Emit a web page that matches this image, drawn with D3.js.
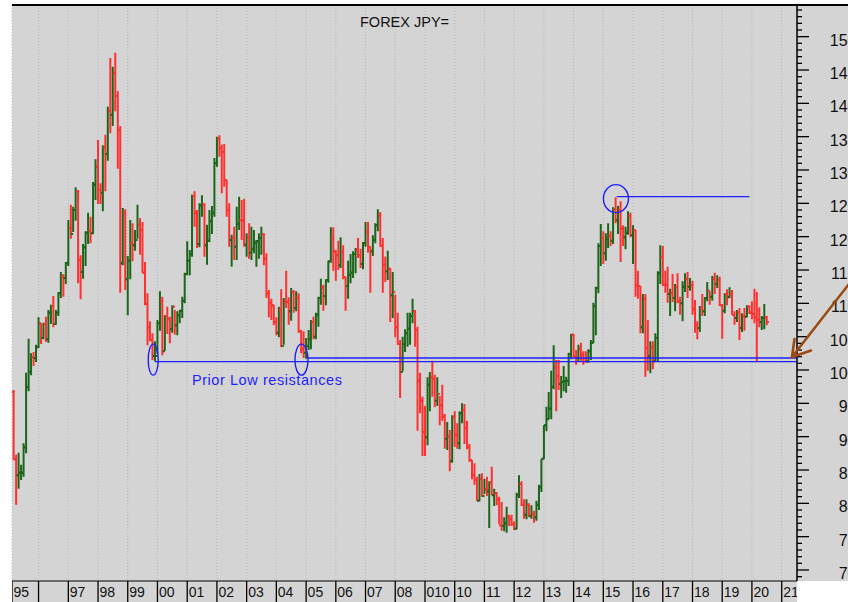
<!DOCTYPE html>
<html>
<head>
<meta charset="utf-8">
<script src="https://cdn.jsdelivr.net/npm/d3@7"></script>
<style>
html, body { margin: 0; padding: 0; background: #fff; }
svg { display: block; font-family: "Liberation Sans", Arial, sans-serif; }
</style>
</head>
<body>
<div id="chart"></div>
<script>
// monthly USD/JPY bars, March 1995 .. July 2020 (open = previous close)
const title = "FOREX JPY=";
const firstMonth = "1995-03";
const firstOpen = 96.7;

const highs = [
  97.0, 87.3, 87.6, 85.8, 89.0, 99.6, 104.7, 102.5, 102.7, 103.8,
  107.9, 107.0, 107.1, 108.0, 109.0, 109.8, 111.1, 109.0, 111.7, 114.7, 114.4, 116.2,
  122.5, 124.8, 124.5, 127.4, 127.0, 117.2, 118.9, 120.8, 123.6, 123.0, 128.2, 131.6,
  134.5, 128.0, 133.7, 135.3, 139.5, 146.8, 145.5, 147.6, 141.8, 136.6, 124.3, 124.1,
  117.1, 122.5, 122.0, 121.0, 124.8, 122.8, 122.2, 116.2, 111.5, 107.3, 105.5, 104.3,
  107.5, 111.8, 111.0, 108.2, 109.5, 108.0, 109.7, 109.0, 108.8, 109.0, 111.0, 114.6,
  119.3, 118.0, 126.3, 126.8, 124.0, 125.0, 126.2, 125.0, 121.8, 124.0, 124.6, 131.8,
  135.0, 135.2, 133.8, 133.9, 128.5, 125.0, 120.3, 121.5, 124.5, 126.0, 125.5, 125.7,
  120.5, 122.0, 121.5, 121.0, 119.5, 120.5, 121.5, 120.5, 117.5, 112.0, 110.7, 109.8,
  107.9, 109.5, 112.1, 110.8, 114.9, 110.9, 112.3, 112.0, 111.8, 111.5, 106.0, 105.8,
  104.8, 106.0, 107.5, 108.0, 108.6, 111.0, 113.7, 112.8, 113.6, 116.4, 121.4, 121.4,
  118.0, 119.4, 119.9, 118.7, 114.0, 116.4, 117.4, 117.8, 118.3, 119.8, 118.2, 119.2,
  122.2, 122.2, 118.5, 120.2, 122.0, 124.1, 123.7, 119.8, 117.0, 117.9, 115.3, 114.7,
  111.3, 108.6, 104.5, 105.0, 106.1, 108.6, 108.6, 110.7, 109.0, 106.5, 99.6, 96.0,
  94.6, 98.9, 99.7, 101.4, 99.3, 98.9, 96.1, 97.8, 93.4, 92.2, 91.0, 93.2,
  93.8, 92.0, 93.8, 95.0, 94.9, 92.4, 88.9, 86.5, 86.0, 84.0, 84.4, 84.5,
  83.7, 84.0, 83.3, 85.5, 82.2, 81.7, 81.0, 80.2, 77.9, 79.5, 78.3, 78.3,
  77.3, 81.6, 84.2, 83.3, 80.6, 80.6, 80.0, 79.7, 78.9, 80.4, 82.8, 86.6,
  91.7, 94.5, 96.7, 99.9, 103.7, 101.5, 101.5, 99.1, 100.6, 99.0, 102.6, 105.4,
  105.4, 103.0, 103.8, 104.1, 102.8, 102.8, 103.1, 104.5, 110.1, 112.5, 119.0, 121.9,
  120.8, 120.5, 122.0, 120.8, 124.4, 125.9, 124.6, 125.3, 121.7, 121.5, 123.8, 123.6,
  121.7, 121.0, 114.9, 112.6, 111.4, 111.4, 107.5, 104.3, 104.3, 105.5, 114.8, 118.7,
  118.6, 114.9, 115.5, 112.2, 114.4, 112.9, 114.5, 111.0, 113.3, 114.5, 114.7, 113.8,
  113.4, 110.5, 107.3, 109.6, 111.4, 110.9, 113.2, 111.8, 114.1, 114.6, 114.2, 114.0,
  109.9, 111.5, 112.1, 112.4, 112.0, 108.8, 109.0, 109.3, 108.5, 109.3, 109.7, 109.7,
  110.3, 112.2, 111.7, 109.4, 108.1, 109.9, 108.1
];

const lows = [
  86.5, 79.8, 82.2, 83.5, 84.0, 87.5, 96.8, 99.2, 100.6, 101.2,
  103.3, 103.9, 104.6, 104.2, 104.1, 106.9, 106.4, 106.8, 108.1, 110.8, 111.0, 112.9,
  115.6, 119.7, 120.7, 122.4, 113.0, 110.6, 113.7, 115.6, 118.9, 119.0, 120.4, 125.5,
  124.9, 124.9, 123.8, 126.8, 131.4, 135.5, 136.6, 138.8, 130.2, 111.6, 115.7, 112.0,
  108.2, 113.6, 116.3, 117.9, 119.7, 117.3, 114.6, 109.7, 103.7, 104.3, 101.5, 101.3,
  102.4, 105.9, 102.2, 102.9, 105.4, 104.0, 105.6, 105.3, 105.2, 107.0, 107.8, 110.0,
  114.2, 114.2, 117.0, 121.5, 118.3, 118.4, 123.0, 117.0, 115.8, 119.2, 120.4, 123.0,
  130.5, 132.0, 126.5, 127.5, 123.0, 118.5, 115.5, 116.5, 116.5, 121.0, 119.5, 118.5,
  117.0, 116.7, 116.5, 117.5, 115.5, 116.7, 117.3, 115.7, 110.8, 107.9, 107.5, 106.7,
  105.2, 104.9, 103.4, 103.8, 109.3, 106.8, 107.4, 108.6, 108.8, 105.6, 102.5, 101.8,
  101.7, 103.0, 103.1, 104.6, 104.6, 106.5, 109.8, 108.9, 109.7, 113.1, 116.1, 114.9,
  113.4, 115.0, 115.3, 113.6, 108.9, 110.7, 113.0, 113.8, 114.5, 116.8, 115.3, 115.1,
  118.5, 117.6, 111.6, 117.1, 119.0, 120.8, 118.5, 111.6, 113.2, 113.5, 107.2, 107.8,
  104.9, 103.8, 95.8, 99.8, 102.7, 103.5, 103.8, 107.0, 103.5, 90.9, 93.5, 87.1,
  87.1, 88.7, 93.8, 96.0, 94.4, 94.6, 91.7, 92.4, 88.2, 88.0, 84.8, 86.1,
  88.5, 88.2, 88.1, 92.0, 88.9, 88.1, 86.2, 83.6, 82.8, 80.4, 80.3, 81.0,
  81.4, 81.1, 76.3, 81.2, 79.6, 79.7, 76.9, 75.9, 75.8, 75.6, 76.6, 76.6,
  76.0, 76.1, 80.8, 79.6, 77.7, 77.6, 77.9, 77.7, 77.1, 77.4, 79.0, 81.7,
  86.6, 90.8, 92.6, 92.6, 97.1, 93.8, 97.0, 95.8, 96.8, 96.6, 97.6, 101.6,
  101.8, 100.8, 101.2, 101.4, 100.8, 101.1, 101.1, 101.5, 104.0, 105.2, 111.5, 115.6,
  115.9, 116.4, 118.3, 118.6, 118.9, 122.0, 120.4, 116.2, 118.6, 118.1, 120.3, 119.9,
  115.9, 111.0, 110.7, 105.5, 105.5, 99.0, 99.9, 99.5, 100.1, 101.2, 101.2, 112.9,
  112.6, 111.6, 110.1, 108.1, 110.2, 108.8, 110.0, 108.3, 107.3, 111.7, 110.8, 111.9,
  108.3, 105.6, 104.6, 105.7, 108.1, 108.1, 110.3, 109.8, 110.4, 111.4, 112.3, 109.6,
  104.7, 108.5, 109.7, 110.8, 108.3, 106.8, 107.2, 104.5, 105.7, 105.9, 107.9, 108.4,
  107.6, 107.0, 101.2, 106.4, 106.0, 106.1, 106.7
];

const closes = [
  86.6, 84.2, 84.6, 84.6, 88.4, 97.4, 99.7, 101.9, 101.8, 103.4,
  107.0, 104.8, 106.9, 104.6, 108.6, 109.6, 106.9, 108.6, 111.5, 114.0, 113.8, 116.0,
  121.3, 120.4, 124.0, 126.8, 116.5, 114.7, 118.4, 120.6, 120.9, 120.5, 127.8, 130.5,
  127.0, 126.6, 133.4, 132.4, 138.9, 138.3, 144.5, 141.1, 136.0, 116.0, 123.5, 113.6,
  116.4, 119.0, 118.7, 119.5, 121.8, 121.0, 114.6, 109.9, 106.4, 104.5, 102.1, 102.1,
  107.0, 110.3, 102.8, 108.1, 107.7, 106.1, 109.5, 106.7, 108.2, 108.9, 110.4, 114.4,
  116.4, 117.4, 126.1, 123.6, 118.9, 124.7, 124.8, 118.7, 119.4, 122.3, 123.6, 131.0,
  134.7, 133.3, 132.7, 128.5, 124.0, 119.5, 119.8, 118.5, 121.9, 122.5, 122.4, 118.8,
  119.9, 117.6, 118.1, 119.1, 119.3, 119.8, 120.4, 116.7, 111.5, 110.0, 109.7, 107.2,
  105.6, 109.0, 103.6, 110.3, 110.2, 108.8, 111.7, 109.3, 110.8, 105.8, 103.1, 102.6,
  103.6, 104.6, 107.2, 105.0, 108.3, 110.8, 112.4, 111.1, 113.5, 116.3, 119.8, 117.8,
  117.2, 115.7, 117.7, 113.9, 112.6, 114.3, 114.6, 117.4, 118.1, 117.2, 115.9, 119.0,
  120.7, 118.5, 117.8, 119.5, 121.7, 123.2, 118.6, 115.8, 114.8, 115.2, 111.2, 111.7,
  106.4, 103.9, 99.7, 103.9, 105.5, 106.2, 108.1, 108.8, 106.0, 98.4, 95.4, 90.7,
  89.9, 97.8, 98.9, 98.6, 95.4, 96.4, 94.7, 93.0, 89.7, 90.0, 86.3, 93.0,
  90.3, 89.0, 93.5, 94.0, 91.3, 88.4, 86.5, 84.2, 83.5, 80.4, 83.7, 81.1,
  82.1, 81.8, 83.1, 81.2, 81.5, 80.6, 76.7, 76.6, 77.0, 78.0, 77.6, 76.9,
  76.2, 81.2, 82.9, 79.8, 78.3, 79.8, 78.1, 78.4, 77.9, 79.8, 82.4, 86.7,
  91.7, 92.6, 94.2, 97.5, 100.4, 99.1, 97.9, 98.2, 98.3, 98.4, 102.4, 105.3,
  102.0, 101.8, 103.2, 102.3, 101.8, 101.3, 102.8, 104.1, 109.6, 112.3, 118.6, 119.8,
  117.5, 119.6, 120.1, 119.4, 124.1, 122.5, 124.0, 121.2, 119.9, 120.6, 123.1, 120.2,
  121.0, 112.7, 112.6, 106.4, 110.7, 103.3, 102.1, 103.4, 101.3, 104.8, 114.5, 117.0,
  112.8, 112.7, 111.4, 111.5, 110.8, 112.4, 110.3, 110.0, 112.5, 113.7, 112.5, 112.7,
  109.2, 106.7, 106.3, 109.3, 108.8, 110.8, 111.9, 111.0, 113.7, 112.9, 113.5, 109.7,
  108.9, 111.4, 110.9, 111.4, 108.3, 107.8, 108.7, 106.3, 108.1, 108.0, 109.5, 108.6,
  108.4, 107.9, 107.5, 107.2, 107.8, 107.9, 107.2
];

// bottom axis: one cell per year starting 1995
const firstYear = 1995;
const yearLabels = ["95", "", "97", "98", "99", "00", "01", "02", "03", "04", "05", "06", "07",
  "08", "010", "10", "11", "12", "13", "14", "15", "16", "17", "18", "19", "20", "21"];

const yMin = 69, yMax = 154, yMajorStep = 5;

// annotations
const priorLows = [
  { circle: "1999-11-10", from: "1999-12-01", value: 101.25 },
  { circle: "2004-11-05", from: "2005-01-20", value: 101.8 }
];
const peakLevel = { circle: "2015-06-05", from: "2015-06-15", to: "2019-12-01", value: 126.0 };
const noteText = "Prior Low resistances";

const W = 848, H = 602;
const plot = { left: 12, right: 797, top: 5, bottom: 581 };

const parseMonth = d3.utcParse("%Y-%m");
const parseDay = d3.utcParse("%Y-%m-%d");
const start = parseMonth(firstMonth);
const bars = closes.map((c, i) => ({
  date: d3.utcMonth.offset(start, i),
  open: i === 0 ? firstOpen : closes[i - 1],
  high: highs[i],
  low: lows[i],
  close: c
}));

const x = d3.scaleUtc()
  .domain([new Date(Date.UTC(1995, 0, 1)), new Date(Date.UTC(2021, 0, 1))])
  .range([8.84, 781.7]);
const y = d3.scaleLinear().domain([70, 150]).range([570, 36.67]);

const svg = d3.select("#chart").append("svg")
  .attr("width", W).attr("height", H);

svg.append("rect").attr("width", W).attr("height", H).attr("fill", "#fff");

// grey panel and label strip
svg.append("rect")
  .attr("x", plot.left).attr("y", plot.top)
  .attr("width", W - plot.left).attr("height", plot.bottom - plot.top)
  .attr("fill", "#d4d4d4");
svg.append("rect")
  .attr("x", plot.left).attr("y", plot.bottom)
  .attr("width", plot.right - plot.left).attr("height", H - plot.bottom)
  .attr("fill", "#d4d4d4");

svg.append("defs").append("clipPath").attr("id", "plotclip")
  .append("rect")
  .attr("x", plot.left).attr("y", plot.top)
  .attr("width", plot.right - plot.left).attr("height", H - plot.top);

const years = d3.range(firstYear, firstYear + yearLabels.length)
  .map(yr => new Date(Date.UTC(yr, 0, 1)));

// dotted year gridlines
svg.append("g")
  .selectAll("line")
  .data([plot.left].concat(years.slice(1).map(d => x(d)).filter(v => v < plot.right)))
  .join("line")
  .attr("x1", d => d).attr("x2", d => d)
  .attr("y1", plot.top).attr("y2", plot.bottom)
  .attr("stroke", "#b8b8b8")
  .attr("stroke-width", 1)
  .attr("stroke-dasharray", "1,2");

// OHLC bars
const barG = svg.append("g").attr("clip-path", "url(#plotclip)");
barG.selectAll("path")
  .data(bars)
  .join("path")
  .attr("d", d => {
    const cx = x(d.date);
    return `M${cx},${y(d.high)}V${y(d.low)}` +
      `M${cx - 2.2},${y(d.open)}H${cx}` +
      `M${cx},${y(d.close)}H${cx + 2.2}`;
  })
  .attr("fill", "none")
  .attr("stroke", d => d.close >= d.open ? "#1c661c" : "#ff3030")
  .attr("stroke-width", 2);

// blue annotations
const blue = "#1f1fff";
const ann = svg.append("g").attr("clip-path", "url(#plotclip)");
priorLows.forEach((p, i) => {
  ann.append("line")
    .attr("x1", x(parseDay(p.from))).attr("x2", plot.right)
    .attr("y1", y(p.value)).attr("y2", y(p.value))
    .attr("stroke", blue).attr("stroke-width", 1.3);
  ann.append("ellipse")
    .attr("cx", x(parseDay(p.circle))).attr("cy", y(101.55))
    .attr("rx", i === 0 ? 5 : 6.5).attr("ry", 15.5)
    .attr("fill", "none").attr("stroke", blue).attr("stroke-width", 1.4);
});
ann.append("line")
  .attr("x1", x(parseDay(peakLevel.from))).attr("x2", x(parseDay(peakLevel.to)))
  .attr("y1", y(peakLevel.value)).attr("y2", y(peakLevel.value))
  .attr("stroke", blue).attr("stroke-width", 1.3);
ann.append("ellipse")
  .attr("cx", x(parseDay(peakLevel.circle))).attr("cy", y(peakLevel.value) + 2)
  .attr("rx", 12.5).attr("ry", 14)
  .attr("fill", "none").attr("stroke", blue).attr("stroke-width", 1.4);

svg.append("text")
  .attr("x", x(parseDay(priorLows[0].from)) + 37)
  .attr("y", y(priorLows[0].value) + 23)
  .attr("font-size", 14.5)
  .attr("textLength", 150)
  .attr("lengthAdjust", "spacing")
  .attr("fill", blue)
  .text(noteText);

// title
svg.append("text")
  .attr("x", 360).attr("y", 26.5)
  .attr("font-size", 14.5)
  .attr("fill", "#111")
  .text(title);

// right value axis
const axisG = svg.append("g");
axisG.append("line")
  .attr("x1", plot.right).attr("x2", plot.right)
  .attr("y1", plot.top).attr("y2", plot.bottom)
  .attr("stroke", "#000").attr("stroke-width", 1.5);
const ticks = d3.range(yMin, yMax + 1);
axisG.selectAll("line.tick")
  .data(ticks)
  .join("line")
  .attr("class", "tick")
  .attr("x1", plot.right)
  .attr("x2", d => plot.right + (d % yMajorStep === 0 ? 12 : 5))
  .attr("y1", d => y(d)).attr("y2", d => y(d))
  .attr("stroke", "#000").attr("stroke-width", 1.3);
axisG.selectAll("text")
  .data(ticks.filter(d => d % yMajorStep === 0))
  .join("text")
  .attr("x", 856.5)
  .attr("y", d => y(d) + 9)
  .attr("text-anchor", "end")
  .attr("font-size", 16)
  .attr("fill", "#111")
  .text(d => d);

// top border
svg.append("line")
  .attr("x1", plot.left).attr("x2", W)
  .attr("y1", plot.top).attr("y2", plot.top)
  .attr("stroke", "#000").attr("stroke-width", 2);

// bottom year axis
const xAxisG = svg.append("g").attr("clip-path", "url(#plotclip)");
xAxisG.append("line")
  .attr("x1", plot.left).attr("x2", plot.right)
  .attr("y1", plot.bottom).attr("y2", plot.bottom)
  .attr("stroke", "#000").attr("stroke-width", 1.2);
const cells = years.map((d, i) => ({ left: Math.max(plot.left, x(d)), label: yearLabels[i] }));
xAxisG.selectAll("line.div")
  .data(cells)
  .join("line")
  .attr("class", "div")
  .attr("x1", d => d.left).attr("x2", d => d.left)
  .attr("y1", plot.bottom).attr("y2", H)
  .attr("stroke", "#000").attr("stroke-width", 1.3);
xAxisG.selectAll("text")
  .data(cells)
  .join("text")
  .attr("x", d => d.left + 1.5)
  .attr("y", 597.3)
  .attr("font-size", 14)
  .attr("fill", "#111")
  .text(d => d.label);

// brown arrow pointing at the support lines
const tip = [plot.right - 5, y(priorLows[1].value) - 1];
const arrow = svg.append("g")
  .attr("stroke", "#9a4a14").attr("stroke-width", 2.6)
  .attr("fill", "none").attr("stroke-linecap", "round");
arrow.append("line")
  .attr("x1", tip[0] + 64).attr("y1", tip[1] - 82)
  .attr("x2", tip[0]).attr("y2", tip[1]);
arrow.append("polyline")
  .attr("points", [[tip[0] + 2.5, tip[1] - 18], tip, [tip[0] + 19, tip[1] - 6.5]].map(p => p.join(",")).join(" "));
</script>
</body>
</html>
